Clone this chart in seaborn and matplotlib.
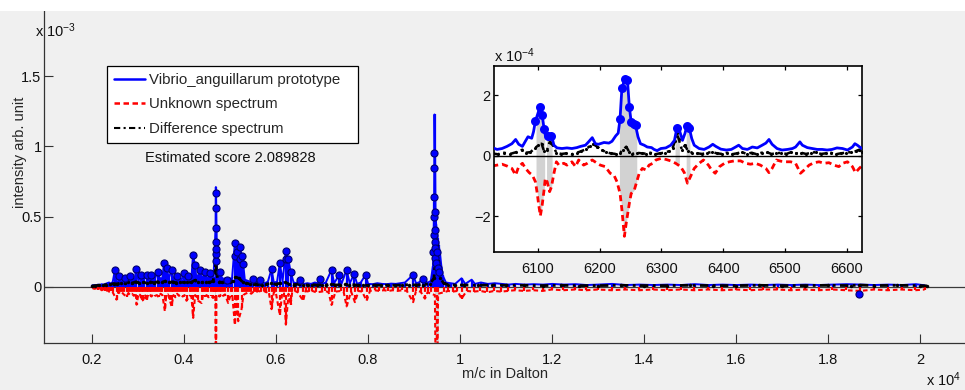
import numpy as np
import matplotlib
matplotlib.use("Agg")
import matplotlib.pyplot as plt
from matplotlib.lines import Line2D
from matplotlib.patches import Rectangle
from matplotlib.ticker import FuncFormatter
import seaborn as sns

# ---------------- data: main spectrum (m/z in Dalton, intensity in 1e-3 arb. units) -------------
proto_peak_mz = [2506, 2601, 2724, 2832, 2963, 3064, 3195, 3289, 3435, 3577, 3630, 3738, 3847,
                 4006, 4100, 4208, 4244, 4353, 4462, 4570, 4696, 4701, 4788, 4934, 5114, 5151,
                 5222, 5259, 5295, 5512, 5657, 5911, 6091, 6222, 6272, 6325, 6527, 6960, 7215,
                 7374, 7541, 7706, 7954, 8988, 9206, 9420, 9432, 9444, 9452, 9462, 9472, 9486,
                 9500, 9518, 9540, 9565, 9600, 9630, 10040, 10260]
proto_peak_int = [0.116, 0.073, 0.064, 0.073, 0.125, 0.085, 0.085, 0.085, 0.108, 0.172, 0.132, 0.12,
                  0.073, 0.097, 0.073, 0.227, 0.156, 0.12, 0.108, 0.097, 0.42, 0.71, 0.108, 0.05,
                  0.31, 0.25, 0.286, 0.22, 0.16, 0.055, 0.05, 0.125, 0.168, 0.255, 0.2, 0.108,
                  0.05, 0.055, 0.12, 0.08, 0.12, 0.09, 0.085, 0.085, 0.055, 0.15, 0.3, 0.6, 1.227,
                  0.95, 0.55, 0.45, 0.4, 0.35, 0.3, 0.25, 0.15, 0.08, 0.06, 0.05]

proto_noise_mz = [2020, 2060, 2100, 2140, 2180, 2220, 2260, 2300, 2340, 2380, 2420, 2460,
                  2540, 2580, 2620, 2660, 2700, 2760, 2800, 2860, 2900, 2940,
                  3020, 3100, 3140, 3230, 3260, 3330, 3380, 3470, 3500, 3540,
                  3600, 3680, 3780, 3810, 3880, 3920, 3960, 4040, 4070, 4140, 4170,
                  4280, 4310, 4400, 4430, 4500, 4530, 4610, 4650, 4730, 4760, 4830,
                  4870, 4900, 4970, 5010, 5050, 5180, 5330, 5370, 5410, 5450, 5490,
                  5570, 5620, 5700, 5760, 5830, 5960, 6030, 6150, 6390, 6450, 6560,
                  6620, 6690, 6770, 6850, 6910, 7010, 7090, 7270, 7430, 7610, 7770,
                  7850, 8010, 8110, 8210, 8310, 8410, 8510, 8610, 8710, 8810, 9050,
                  9110, 9250, 9310, 9370, 9700, 9800, 9900, 10120, 10330, 10460, 10610,
                  10760, 10910, 11060, 11210, 11410, 11610, 11810, 12010, 12260, 12510,
                  12760, 13010, 13310, 13610, 13910, 14210, 14510, 14810, 15110, 15410,
                  15710, 16010, 16310, 16610, 16910, 17210, 17510, 17810, 18110, 18410,
                  18710, 19010, 19310, 19610, 19910, 20100]
proto_noise_int = [0.01, 0.012, 0.01, 0.015, 0.012, 0.018, 0.015, 0.02, 0.025, 0.03, 0.02, 0.035,
                   0.04, 0.03, 0.05, 0.035, 0.045, 0.03, 0.05, 0.04, 0.06, 0.045,
                   0.04, 0.045, 0.06, 0.04, 0.065, 0.05, 0.06, 0.07, 0.055, 0.065,
                   0.05, 0.06, 0.05, 0.065, 0.055, 0.06, 0.05, 0.055, 0.06, 0.065, 0.07,
                   0.06, 0.075, 0.06, 0.07, 0.055, 0.065, 0.06, 0.07, 0.06, 0.05, 0.065,
                   0.055, 0.06, 0.045, 0.06, 0.05, 0.065, 0.05, 0.045, 0.04, 0.035, 0.04,
                   0.03, 0.035, 0.03, 0.025, 0.035, 0.03, 0.035, 0.04, 0.03, 0.025, 0.03,
                   0.02, 0.025, 0.02, 0.03, 0.025, 0.02, 0.03, 0.025, 0.02, 0.025, 0.02,
                   0.03, 0.02, 0.018, 0.025, 0.02, 0.018, 0.022, 0.02, 0.025, 0.03, 0.025,
                   0.03, 0.035, 0.03, 0.04, 0.03, 0.025, 0.02, 0.02, 0.02, 0.03, 0.02,
                   0.025, 0.02, 0.015, 0.02, 0.015, 0.018, 0.015, 0.02, 0.015, 0.018,
                   0.012, 0.015, 0.02, 0.012, 0.015, 0.012, 0.015, 0.012, 0.018, 0.012,
                   0.015, 0.012, 0.015, 0.012, 0.015, 0.012, 0.015, 0.012, 0.015, 0.018,
                   0.015, 0.012, 0.015, 0.012, 0.018, 0.01]

# matched-peak markers on the prototype spectrum
proto_dot_mz = [2506, 2601, 2724, 2832, 2963, 3064, 3195, 3289, 3435, 3577, 3630, 3738, 3847,
                4006, 4100, 4208, 4244, 4353, 4462, 4570, 4696, 4698, 4699, 4700, 4701, 4702,
                4704, 4788, 4934, 5114, 5120, 5151, 5222, 5228, 5259, 5295, 5512, 5657, 5911,
                6091, 6222, 6226, 6272, 6325, 6527, 6960, 7215, 7374, 7541, 7706, 7954, 8988,
                9206, 9430, 9440, 9444, 9446, 9448, 9450, 9452, 9454, 9458, 9462, 9470, 9480,
                9500, 9520, 9545, 18674]
proto_dot_int = [0.116, 0.073, 0.064, 0.073, 0.125, 0.085, 0.085, 0.085, 0.108, 0.172, 0.132,
                 0.12, 0.073, 0.097, 0.073, 0.227, 0.156, 0.12, 0.108, 0.097, 0.18, 0.23, 0.32,
                 0.416, 0.558, 0.664, 0.27, 0.108, 0.05, 0.31, 0.22, 0.25, 0.286, 0.2, 0.22,
                 0.16, 0.055, 0.05, 0.125, 0.168, 0.255, 0.2, 0.2, 0.108, 0.05, 0.055, 0.12,
                 0.08, 0.12, 0.09, 0.085, 0.085, 0.055, 0.25, 0.369, 0.5, 0.64, 0.845, 0.95,
                 0.534, 0.404, 0.32, 0.274, 0.204, 0.168, 0.25, 0.132, 0.108, -0.055]

unknown_peak_mz = [2543, 2760, 2978, 3086, 3121, 3195, 3593, 3701, 3738, 4064, 4208, 4316, 4390,
                   4701, 4968, 5114, 5186, 5259, 5911, 6091, 6222, 6325, 6598, 7215, 7541,
                   7722, 7976, 8988, 9243, 9496, 10040]
unknown_peak_int = [-0.092, -0.07, -0.128, -0.1, -0.095, -0.1, -0.175, -0.095, -0.14, -0.1,
                    -0.222, -0.1, -0.116, -0.9, -0.116, -0.27, -0.246, -0.16, -0.16, -0.2,
                    -0.27, -0.13, -0.1, -0.13, -0.14, -0.11, -0.1, -0.11, -0.085, -1.2, -0.085]

unknown_noise_mz = [2020, 2060, 2100, 2140, 2180, 2220, 2260, 2300, 2340, 2380, 2420, 2460,
                    2580, 2615, 2660, 2700, 2800, 2840, 2880, 2920, 2960, 3020, 3060, 3160,
                    3220, 3260, 3300, 3340, 3380, 3420, 3460, 3500, 3540, 3620, 3660, 3780,
                    3820, 3860, 3900, 3940, 3980, 4020, 4130, 4170, 4250, 4290, 4420, 4460,
                    4500, 4540, 4600, 4640, 4670, 4690, 4712, 4740, 4780, 4820, 4860, 4900,
                    5020, 5060, 5150, 5300, 5340, 5380, 5420, 5470, 5520, 5570, 5620, 5680,
                    5740, 5800, 5850, 5960, 6000, 6140, 6180, 6280, 6360, 6420, 6480, 6650,
                    6720, 6800, 6880, 7000, 7080, 7150, 7300, 7420, 7480, 7640, 7800, 7880,
                    8050, 8150, 8250, 8350, 8450, 8550, 8650, 8750, 8850, 9050, 9150, 9300,
                    9380, 9460, 9530, 9650, 9750, 9850, 9950, 10150, 10300, 10450, 10600,
                    10750, 10900, 11050, 11200, 11400, 11600, 11800, 12000, 12250, 12500,
                    12750, 13000, 13300, 13600, 13900, 14200, 14500, 14800, 15100, 15400,
                    15700, 16000, 16300, 16600, 16900, 17200, 17500, 17800, 18100, 18400,
                    18700, 19000, 19300, 19600, 19900, 20100]
unknown_noise_int = [-0.01, -0.015, -0.012, -0.02, -0.015, -0.025, -0.02, -0.03, -0.025, -0.035,
                     -0.03, -0.04, -0.035, -0.05, -0.04, -0.055, -0.045, -0.06, -0.05, -0.065,
                     -0.045, -0.05, -0.06, -0.055, -0.065, -0.05, -0.07, -0.055, -0.065, -0.06,
                     -0.075, -0.05, -0.06, -0.07, -0.055, -0.06, -0.075, -0.05, -0.065, -0.055,
                     -0.07, -0.06, -0.065, -0.07, -0.06, -0.075, -0.065, -0.07, -0.06, -0.075,
                     -0.065, -0.08, -0.06, -0.06, -0.06, -0.06, -0.07, -0.05, -0.065, -0.055,
                     -0.06, -0.07, -0.08, -0.06, -0.05, -0.045, -0.04, -0.05, -0.035, -0.04,
                     -0.03, -0.035, -0.03, -0.04, -0.035, -0.04, -0.035, -0.05, -0.04, -0.05,
                     -0.035, -0.03, -0.04, -0.03, -0.035, -0.03, -0.04, -0.035, -0.03, -0.04,
                     -0.035, -0.03, -0.04, -0.035, -0.03, -0.035, -0.03, -0.025, -0.03, -0.025,
                     -0.03, -0.025, -0.03, -0.025, -0.03, -0.03, -0.035, -0.04, -0.05, -0.06,
                     -0.05, -0.04, -0.03, -0.035, -0.03, -0.03, -0.035, -0.03, -0.04, -0.03,
                     -0.035, -0.03, -0.025, -0.03, -0.025, -0.03, -0.02, -0.025, -0.02, -0.025,
                     -0.02, -0.025, -0.02, -0.025, -0.02, -0.025, -0.02, -0.025, -0.02, -0.025,
                     -0.02, -0.025, -0.02, -0.02, -0.025, -0.02, -0.025, -0.02, -0.025, -0.03,
                     -0.02, -0.025, -0.02, -0.025, -0.02]

diff_mz = [2000, 2080, 2160, 2240, 2320, 2400, 2480, 2560, 2640, 2720, 2800, 2880, 2960, 3040,
           3120, 3200, 3280, 3360, 3440, 3520, 3600, 3680, 3760, 3840, 3920, 4000, 4080, 4160,
           4240, 4320, 4400, 4480, 4560, 4640, 4690, 4701, 4712, 4760, 4840, 4920, 5000, 5080,
           5120, 5200, 5280, 5360, 5440, 5520, 5600, 5700, 5800, 5900, 6000, 6100, 6200, 6300,
           6400, 6500, 6600, 6700, 6800, 6900, 7000, 7100, 7200, 7300, 7400, 7500, 7600, 7700,
           7800, 7900, 8000, 8150, 8300, 8450, 8600, 8750, 8900, 9050, 9200, 9350, 9440, 9470,
           9490, 9505, 9520, 9545, 9580, 9650, 9750, 9900, 10100, 10400, 10700, 11000, 11400,
           11800, 12200, 12600, 13000, 13500, 14000, 14500, 15000, 15500, 16000, 16500, 17000,
           17500, 18000, 18500, 18674, 19000, 19500, 20000, 20150]
diff_int = [0.004, 0.008, 0.01, 0.012, 0.015, 0.018, 0.022, 0.02, 0.028, 0.024, 0.03, 0.026,
            0.035, 0.028, 0.032, 0.026, 0.034, 0.028, 0.036, 0.03, 0.04, 0.03, 0.035, 0.028,
            0.034, 0.03, 0.036, 0.03, 0.045, 0.032, 0.03, 0.036, 0.03, 0.04, 0.12, 0.3, 0.1,
            0.035, 0.03, 0.035, 0.03, 0.04, 0.07, 0.06, 0.035, 0.025, 0.02, 0.018, 0.02, 0.015,
            0.018, 0.025, 0.018, 0.025, 0.03, 0.02, 0.015, 0.018, 0.015, 0.012, 0.015, 0.012,
            0.014, 0.012, 0.02, 0.012, 0.014, 0.018, 0.012, 0.014, 0.01, 0.012, 0.01, 0.012,
            0.01, 0.012, 0.01, 0.012, 0.015, 0.012, 0.015, 0.02, 0.06, 0.2, 0.39, 0.3, 0.18,
            0.12, 0.06, 0.025, 0.015, 0.012, 0.012, 0.01, 0.012, 0.01, 0.01, 0.008, 0.01,
            0.008, 0.008, 0.01, 0.008, 0.008, 0.01, 0.008, 0.008, 0.01, 0.008, 0.008, 0.01,
            0.008, 0.012, 0.008, 0.01, 0.008, 0.006]

main_match_lo = [4692, 9470]
main_match_hi = [4710, 9540]

# ---------------- data: inset (m/z in Dalton, intensity in 1e-4 arb. units) -------------
ins_proto_mz = [6026, 6034, 6042, 6050, 6058, 6064, 6069, 6075, 6080, 6084, 6090, 6093, 6096,
                6100, 6103, 6107, 6110, 6112, 6117, 6122, 6126, 6131, 6139, 6147, 6155, 6163,
                6169, 6177, 6182, 6188, 6193, 6198, 6207, 6215, 6220, 6226, 6230, 6233, 6236,
                6241, 6245, 6248, 6251, 6255, 6258, 6262, 6266, 6272, 6277, 6284, 6288, 6293,
                6299, 6307, 6315, 6321, 6325, 6329, 6334, 6338, 6341, 6345, 6349, 6353, 6361,
                6369, 6377, 6383, 6388, 6396, 6405, 6413, 6420, 6425, 6431, 6439, 6447, 6455,
                6463, 6469, 6474, 6479, 6487, 6495, 6504, 6512, 6517, 6524, 6528, 6536, 6544,
                6552, 6560, 6568, 6576, 6584, 6593, 6601, 6609, 6613, 6617, 6624]
ins_proto_int = [0.27, 0.21, 0.24, 0.31, 0.40, 0.54, 0.38, 0.31, 0.49, 0.63, 0.58, 0.80, 1.15,
                 1.40, 1.60, 1.34, 0.90, 0.68, 0.66, 0.67, 0.35, 0.26, 0.24, 0.26, 0.24, 0.27,
                 0.31, 0.35, 0.46, 0.60, 0.40, 0.38, 0.44, 0.42, 0.48, 0.66, 0.75, 1.23, 2.25,
                 2.55, 2.50, 1.62, 1.12, 1.05, 1.01, 0.63, 0.40, 0.35, 0.29, 0.27, 0.21, 0.17,
                 0.24, 0.26, 0.35, 0.51, 0.92, 0.85, 0.51, 0.74, 0.98, 0.92, 0.57, 0.35, 0.24,
                 0.21, 0.29, 0.38, 0.31, 0.22, 0.19, 0.21, 0.29, 0.35, 0.24, 0.21, 0.29, 0.26,
                 0.35, 0.42, 0.54, 0.38, 0.24, 0.19, 0.21, 0.24, 0.29, 0.46, 0.35, 0.27, 0.24,
                 0.21, 0.21, 0.19, 0.21, 0.26, 0.24, 0.19, 0.29, 0.40, 0.35, 0.24]

ins_unknown_mz = [6026, 6034, 6042, 6050, 6058, 6064, 6069, 6075, 6080, 6086, 6091, 6096, 6099,
                  6101, 6104, 6107, 6110, 6112, 6115, 6119, 6122, 6126, 6130, 6134, 6142, 6147,
                  6155, 6161, 6166, 6174, 6180, 6188, 6196, 6201, 6209, 6217, 6223, 6228, 6233,
                  6236, 6240, 6243, 6248, 6251, 6256, 6260, 6264, 6269, 6275, 6280, 6286, 6291,
                  6299, 6307, 6315, 6323, 6331, 6337, 6342, 6347, 6353, 6361, 6368, 6376, 6381,
                  6387, 6394, 6402, 6410, 6418, 6428, 6436, 6444, 6452, 6460, 6469, 6474, 6479,
                  6486, 6493, 6501, 6509, 6517, 6525, 6531, 6539, 6547, 6555, 6563, 6571, 6579,
                  6587, 6593, 6601, 6609, 6614, 6620, 6624]
ins_unknown_int = [-0.34, -0.31, -0.28, -0.34, -0.42, -0.64, -0.36, -0.25, -0.42, -0.56, -0.64,
                   -0.86, -1.25, -1.58, -1.99, -1.63, -1.14, -0.75, -0.86, -1.19, -1.03, -0.58,
                   -0.20, -0.31, -0.25, -0.31, -0.20, -0.36, -0.14, -0.31, -0.25, -0.14, -0.25,
                   -0.31, -0.36, -0.58, -0.64, -0.86, -1.25, -1.79, -2.67, -2.23, -1.58, -1.25,
                   -1.14, -0.86, -0.58, -0.42, -0.47, -0.31, -0.25, -0.14, -0.09, -0.12, -0.17,
                   -0.25, -0.36, -0.56, -0.91, -0.69, -0.42, -0.25, -0.14, -0.31, -0.47, -0.58,
                   -0.36, -0.25, -0.20, -0.17, -0.17, -0.25, -0.28, -0.25, -0.31, -0.42, -0.56,
                   -0.42, -0.14, -0.18, -0.20, -0.20, -0.25, -0.58, -0.47, -0.31, -0.23, -0.20,
                   -0.25, -0.23, -0.31, -0.36, -0.25, -0.20, -0.36, -0.56, -0.42, -0.34]

ins_diff_mz = [6026, 6035, 6045, 6055, 6065, 6075, 6080, 6088, 6095, 6101, 6106, 6110, 6115,
               6119, 6124, 6130, 6138, 6146, 6155, 6163, 6170, 6178, 6184, 6190, 6196, 6203,
               6210, 6218, 6226, 6233, 6238, 6243, 6248, 6253, 6260, 6268, 6275, 6282, 6290,
               6297, 6305, 6312, 6318, 6322, 6325, 6328, 6333, 6338, 6343, 6350, 6358, 6366,
               6374, 6382, 6390, 6398, 6406, 6414, 6422, 6430, 6438, 6446, 6454, 6462, 6470,
               6478, 6486, 6494, 6502, 6510, 6518, 6526, 6534, 6542, 6550, 6558, 6566, 6574,
               6582, 6590, 6598, 6606, 6614, 6620, 6624]
ins_diff_int = [0.08, 0.05, 0.10, 0.06, 0.12, 0.20, 0.10, 0.12, 0.25, 0.35, 0.40, 0.15, 0.20,
                0.45, 0.35, 0.10, 0.06, 0.08, 0.05, 0.10, 0.15, 0.22, 0.32, 0.38, 0.30, 0.20,
                0.12, 0.08, 0.06, 0.10, 0.20, 0.30, 0.12, 0.06, 0.10, 0.08, 0.07, 0.10, 0.05,
                0.08, 0.10, 0.15, 0.25, 0.50, 0.74, 0.55, 0.20, 0.35, 0.15, 0.10, 0.08, 0.06,
                0.10, 0.12, 0.08, 0.06, 0.10, 0.05, 0.08, 0.12, 0.06, 0.10, 0.05, 0.10, 0.12,
                0.06, 0.08, 0.10, 0.06, 0.12, 0.08, 0.10, 0.06, 0.10, 0.12, 0.06, 0.08, 0.10,
                0.05, 0.08, 0.10, 0.12, 0.15, 0.20, 0.12]

ins_dot_mz = [6096, 6103, 6107, 6110, 6117, 6122, 6233, 6236, 6241, 6245, 6248, 6251, 6255,
              6258, 6325, 6341, 6345]
ins_dot_int = [1.15, 1.60, 1.34, 0.90, 0.66, 0.67, 1.23, 2.25, 2.55, 2.50, 1.62, 1.12, 1.05,
               1.01, 0.92, 0.98, 0.92]

ins_match_lo = [6097, 6114, 6232, 6322, 6340]
ins_match_hi = [6111, 6123, 6260, 6329, 6346]

main_xticks = [2000, 4000, 6000, 8000, 10000, 12000, 14000, 16000, 18000, 20000]
main_yticks = [0, 0.5, 1, 1.5]
ins_xticks = [6100, 6200, 6300, 6400, 6500, 6600]
ins_yticks = [-2, 0, 2]

legend_labels = ["Vibrio_anguillarum prototype", "Unknown spectrum", "Difference spectrum"]
score_label = "Estimated score 2.089828"

# ---------------- style ----------------
sns.set_theme(style="ticks")
FONT = ["Liberation Sans", "DejaVu Sans"]
plt.rcParams["font.family"] = FONT
plt.rcParams["mathtext.default"] = "regular"
FS = 10.5
BG = "#f0f0f0"
GRAY = "#d2d2d2"
DASH = (0, (2.2, 1.4))
DASHDOT = (0, (3.0, 1.6, 1.0, 1.6))

W, H = 965, 390
fig = plt.figure(figsize=(W / 100, H / 100), dpi=100, facecolor=BG)
fig.patches.append(Rectangle((0, 1 - 11 / H), 1, 11 / H, transform=fig.transFigure,
                             facecolor="white", edgecolor="none", zorder=0))

# ---------------- main axes ----------------
ax = fig.add_axes([43.7 / W, 1 - 343 / H, (965.5 - 43.7) / W, (343 - 11) / H])
ax.set_facecolor(BG)
ax.set_xlim(960, 20990)
ax.set_ylim(-0.401, 1.964)

ax.axhline(0, color="#3a3a3a", lw=0.9, zorder=1)

# grey match bands
for lo, hi in zip(main_match_lo, main_match_hi):
    low = min(v for m, v in zip(unknown_peak_mz, unknown_peak_int) if lo <= m <= hi)
    ax.fill_between([lo, hi], [low, low], [0.12, 0.12], color=GRAY, lw=0, zorder=1.5)

# full spectra: peak list + background signal, sorted by m/z
p_mz = np.array(proto_peak_mz + proto_noise_mz, float)
p_in = np.array(proto_peak_int + proto_noise_int, float)
o = np.argsort(p_mz, kind="stable")
u_mz = np.array(unknown_peak_mz + unknown_noise_mz, float)
u_in = np.array(unknown_peak_int + unknown_noise_int, float)
q = np.argsort(u_mz, kind="stable")

ax.vlines(p_mz, 0, p_in, colors="blue", lw=1.6, zorder=2)
sns.lineplot(x=p_mz[o], y=p_in[o], ax=ax, color="blue", lw=1.4, estimator=None,
             sort=False, zorder=2)
ax.vlines(u_mz, 0, u_in, colors="red", lw=1.6, linestyles=DASH, zorder=2.2)
sns.lineplot(x=u_mz[q], y=u_in[q], ax=ax, color="red", lw=1.5, ls=DASH, estimator=None,
             sort=False, zorder=2.2)
sns.lineplot(x=diff_mz, y=diff_int, ax=ax, color="black", lw=2.0, ls=DASHDOT,
             marker=".", markersize=5, markeredgewidth=0, estimator=None, zorder=3)
sns.scatterplot(x=proto_dot_mz, y=proto_dot_int, ax=ax, color="blue", s=26,
                edgecolor="#000070", linewidth=0.8, zorder=4)

ax.set_xticks(main_xticks)
ax.xaxis.set_major_formatter(FuncFormatter(lambda v, p: f"{v / 1e4:g}"))
ax.set_yticks(main_yticks)
ax.yaxis.set_major_formatter(FuncFormatter(lambda v, p: f"{v:g}"))
ax.tick_params(axis="x", direction="in", length=6.5, width=0.8, color="#333333",
               labelsize=FS, pad=7, labelcolor="#111111")
ax.tick_params(axis="y", direction="in", length=6.5, width=0.8, color="#333333",
               labelsize=FS, pad=1.5, labelcolor="#111111")
for s in ("top", "right"):
    ax.spines[s].set_visible(False)
for s in ("left", "bottom"):
    ax.spines[s].set_color("#333333")
    ax.spines[s].set_linewidth(0.9)

ax.set_xlabel("m/c in Dalton", fontsize=FS)
ax.xaxis.label.set_va("center")
ax.xaxis.set_label_coords(0.5, (343 - 374) / 332)
ax.set_ylabel("intensity arb. unit", fontsize=FS)
ax.yaxis.label.set_va("center")
ax.yaxis.set_label_coords((20 - 43.7) / 921.8, (343 - 152) / 332)

ax.text(5010, 0.917, score_label, fontsize=FS, ha="center", va="center", color="#111111")

handles = [Line2D([], [], color="blue", lw=1.8),
           Line2D([], [], color="red", lw=1.8, ls=DASH),
           Line2D([], [], color="black", lw=1.5, ls=DASHDOT)]
leg = ax.legend(handles, legend_labels, loc="upper left",
                bbox_to_anchor=(107 / W, 1 - 144 / H, 251 / W, 78 / H),
                bbox_transform=fig.transFigure, mode="expand",
                borderaxespad=0, fontsize=10.8, frameon=True, fancybox=False,
                handlelength=2.1, handletextpad=0.25, labelspacing=0.7, borderpad=0.45)
leg.get_frame().set_edgecolor("black")
leg.get_frame().set_linewidth(0.9)
leg.get_frame().set_facecolor("white")
leg.get_frame().set_alpha(1)
leg.set_zorder(10)

fig.text(35 / W, 1 - 37 / H, r"x 10$^{-3}$", fontsize=FS, ha="left", va="baseline",
         color="#111111")
fig.text(926 / W, 1 - 386 / H, r"x 10$^{4}$", fontsize=FS, ha="left", va="baseline",
         color="#111111")

# ---------------- inset axes ----------------
ins = fig.add_axes([494 / W, 1 - 252 / H, 368.3 / W, 186 / H])
ins.set_facecolor("white")
ins.set_xlim(6029, 6625)
ins.set_ylim(-3.19, 2.975)

pm = np.array(ins_proto_mz, float)
pi = np.array(ins_proto_int, float)
um = np.array(ins_unknown_mz, float)
ui = np.array(ins_unknown_int, float)
for lo, hi in zip(ins_match_lo, ins_match_hi):
    xs = np.unique(np.concatenate([[lo, hi], pm[(pm >= lo) & (pm <= hi)],
                                   um[(um >= lo) & (um <= hi)]]))
    ins.fill_between(xs, np.interp(xs, pm, pi), np.interp(xs, um, ui),
                     color=GRAY, lw=0, zorder=1)

ins.axhline(0, color="black", lw=1.0, zorder=1.5)
sns.lineplot(x=ins_proto_mz, y=ins_proto_int, ax=ins, color="blue", lw=2.0,
             estimator=None, zorder=3)
sns.lineplot(x=ins_unknown_mz, y=ins_unknown_int, ax=ins, color="red", lw=2.0,
             ls=DASH, estimator=None, zorder=2)
sns.lineplot(x=ins_diff_mz, y=ins_diff_int, ax=ins, color="black", lw=1.8, ls=DASHDOT,
             marker=".", markersize=4.5, markeredgewidth=0, estimator=None, zorder=2.5)
sns.scatterplot(x=ins_dot_mz, y=ins_dot_int, ax=ins, color="blue", s=42,
                edgecolor="blue", linewidth=0, zorder=4)

ins.set_xticks(ins_xticks)
ins.set_yticks(ins_yticks)
ins.yaxis.set_major_formatter(FuncFormatter(lambda v, p: f"{v:g}".replace("-", "\u2212")))
ins.tick_params(direction="in", length=3, width=0.9, top=True, right=True,
                labelsize=FS, color="black", labelcolor="#111111")
ins.tick_params(axis="x", pad=7)
ins.tick_params(axis="y", pad=2.5)
for s in ins.spines.values():
    s.set_visible(True)
    s.set_color("black")
    s.set_linewidth(1.2)
ins.set_xlabel("")
ins.set_ylabel("")

fig.text(494 / W, 1 - 62 / H, r"x 10$^{-4}$", fontsize=FS, ha="left", va="baseline",
         color="#111111")

fig.savefig("out.png", dpi=100, facecolor=BG)
